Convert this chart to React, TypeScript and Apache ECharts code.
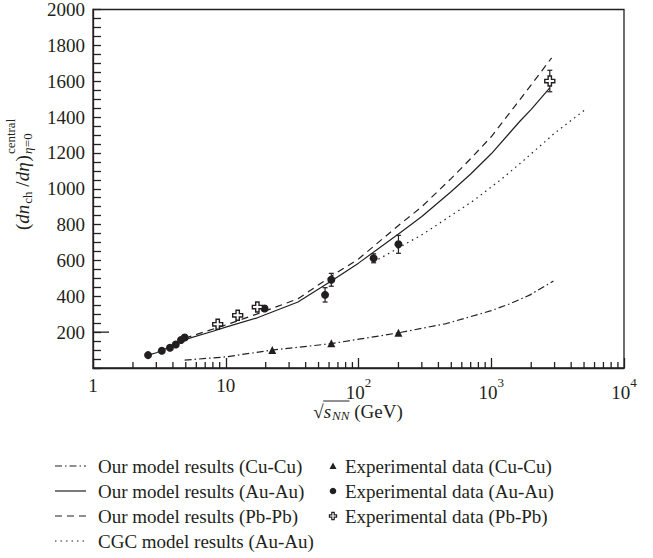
import { useEffect, useRef } from 'react';
import * as echarts from 'echarts';

// ---- data (x = sqrt(s_NN) in GeV, y = dN/deta) ----
const cuCuModel: [number, number][] = [
  [4.9, 44], [10, 62], [22.4, 100], [62.4, 136], [200, 196], [460, 248], [1000, 320], [1400, 360], [1960, 408], [2940, 485],
];
const auAuModel: [number, number][] = [
  [2.6, 72], [3, 85], [4, 125], [4.9, 158], [8, 205], [10, 228], [17.3, 280], [35, 368], [62.4, 485], [100, 585],
  [200, 748], [300, 845], [500, 985], [700, 1082], [1000, 1195], [1650, 1378], [2000, 1443], [2760, 1563],
];
const pbPbModel: [number, number][] = [
  [4.9, 166], [10, 240], [17.3, 302], [35, 386], [62.4, 512], [100, 608], [200, 795], [300, 900], [500, 1058],
  [700, 1168], [1000, 1290], [1650, 1498], [2000, 1580], [2850, 1730],
];
const cgcModel: [number, number][] = [
  [130, 591], [200, 670], [308, 748], [450, 829], [733, 933], [1200, 1055], [1742, 1156], [3000, 1310], [5236, 1448],
];
const cuCuExp: [number, number][] = [[22.4, 100], [62.4, 138], [200, 196]];
const auAuExp: [number, number][] = [
  [2.6, 72], [3.3, 96], [3.8, 113], [4.2, 131], [4.6, 156], [4.9, 170], [19.6, 332], [56, 408], [62.4, 492], [130, 612], [200, 690],
];
const auAuErr: number[] = [0, 0, 0, 0, 0, 14, 15, 40, 36, 25, 50];
const pbPbExp: [number, number][] = [[8.7, 244], [12.3, 294], [17.3, 340], [2760, 1601]];
const pbPbErr: number[] = [0, 0, 0, 60];

const yMax = 2000;
const yInterval = 200;
const xDecades = [1, 10, 100, 1000];

const lineNames = [
  'Our model results (Cu-Cu)',
  'Our model results (Au-Au)',
  'Our model results (Pb-Pb)',
  'CGC model results (Au-Au)',
];
const expNames = [
  'Experimental data (Cu-Cu)',
  'Experimental data (Au-Au)',
  'Experimental data (Pb-Pb)',
];

const FAMILY = 'Liberation Serif';
const FONT = 'Liberation Serif, serif';
const INK = '#231f20';
const CROSS_D = 'M3,0L6,0L6,3L9,3L9,6L6,6L6,9L3,9L3,6L0,6L0,3L3,3Z';
const CROSS = 'path://' + CROSS_D;
const DASH_DOT = [7, 3, 1.5, 3];
const DASH = [7, 5];
const DOT = [1.5, 4];

function measure(text: string, size: number, italic: boolean) {
  const ctx = document.createElement('canvas').getContext('2d')!;
  ctx.font = `${italic ? 'italic ' : ''}${size}px ${FAMILY}`;
  return ctx.measureText(text).width;
}

function txt(t: string, x: number, y: number, size: number, italic: boolean) {
  return {
    type: 'text',
    x,
    y,
    style: {
      text: t,
      fontFamily: FONT,
      fontSize: size,
      fontStyle: italic ? 'italic' : 'normal',
      fill: INK,
      textAlign: 'left',
      textVerticalAlign: 'middle',
      align: 'left',
      verticalAlign: 'middle',
    },
  };
}

export default function App() {
  const ref = useRef<HTMLDivElement>(null);
  useEffect(() => {
    if (!ref.current) return;
    try {
      echarts.graphic.registerShape('crossMark', echarts.graphic.extendPath(CROSS_D, {}) as any);
    } catch (e) { /* already registered */ }
    const chart = echarts.init(ref.current, undefined, { renderer: 'svg' });

    // y-axis title (rotated group)
    const yParts = [
      { t: '(', s: 19, i: false, dy: 0 },
      { t: 'dn', s: 19, i: true, dy: 0 },
      { t: 'ch', s: 13, i: false, dy: 5 },
      { t: ' /', s: 19, i: false, dy: 0 },
      { t: 'dη', s: 19, i: true, dy: 0 },
      { t: ')', s: 19, i: false, dy: 0 },
    ];
    const yChildren: any[] = [];
    let pos = 0;
    for (const p of yParts) {
      yChildren.push(txt(p.t, pos, p.dy, p.s, p.i));
      pos += measure(p.t, p.s, p.i) + (p.i ? 1 : 0);
    }
    yChildren.push(txt('central', pos + 1, -12, 13, false));
    yChildren.push(txt('η', pos + 1, 5, 13, true));
    yChildren.push(txt('=0', pos + 1 + measure('η', 13, true) + 0.5, 5, 13, false));

    // x-axis title
    const wRad = measure('√', 19, false);
    const wS = measure('s', 19, true);
    const wNN = measure('NN', 13, true);
    const wRest = measure(' (GeV)', 19, false);
    const total = wRad + wS + 1 + wNN + wRest;
    const xStart = 358 - total / 2;
    const xTitleY = 411;
    const xChildren: any[] = [
      txt('√', xStart, xTitleY, 19, false),
      txt('s', xStart + wRad, xTitleY, 19, true),
      txt('NN', xStart + wRad + wS + 1, xTitleY + 4, 13, true),
      txt(' (GeV)', xStart + wRad + wS + 1 + wNN, xTitleY, 19, false),
      {
        type: 'line',
        shape: { x1: xStart + wRad - 0.5, y1: xTitleY - 10, x2: xStart + wRad + wS + 1 + wNN, y2: xTitleY - 10 },
        style: { stroke: INK, lineWidth: 1 },
      },
    ];

    // legend (manual)
    const rowY = [466, 491, 516, 541];
    const legendChildren: any[] = [];
    const dashes: any[] = [DASH_DOT, null, DASH, DOT];
    lineNames.forEach((n, k) => {
      legendChildren.push({
        type: 'line',
        shape: { x1: 55, y1: rowY[k], x2: 86, y2: rowY[k] },
        style: { stroke: INK, lineWidth: 1.2, lineDash: dashes[k] || undefined },
      });
      legendChildren.push(txt(n, 98, rowY[k], 19, false));
    });
    const mx = 333;
    legendChildren.push({
      type: 'polygon',
      shape: { points: [[mx, rowY[0] - 3.5], [mx + 3.5, rowY[0] + 3], [mx - 3.5, rowY[0] + 3]] },
      style: { fill: INK },
    });
    legendChildren.push({ type: 'circle', shape: { cx: mx, cy: rowY[1], r: 3.3 }, style: { fill: INK } });
    legendChildren.push({
      type: 'crossMark',
      x: mx - 3.6,
      y: rowY[2] - 3.6,
      scaleX: 0.8,
      scaleY: 0.8,
      style: { fill: '#fff', stroke: INK, lineWidth: 1.5 },
    });
    expNames.forEach((n, k) => legendChildren.push(txt(n, 345, rowY[k], 19, false)));

    const errorRows: number[][] = [];
    auAuExp.forEach((p, k) => { if (auAuErr[k] > 0) errorRows.push([p[0], p[1], auAuErr[k]]); });
    pbPbExp.forEach((p, k) => { if (pbPbErr[k] > 0) errorRows.push([p[0], p[1], pbPbErr[k]]); });

    // extra tick marks (x minor ticks at 2..9 per decade, long y tick at 200): [x, y, dx, dy]
    const ticks: number[][] = [];
    for (const d of xDecades) for (let k = 2; k <= 9; k++) ticks.push([d * k, 0, 0, -6]);
    ticks.push([1, yInterval, 16, 0]);

    const lineSeries = (name: string, data: [number, number][], type: any) => ({
      name,
      type: 'line',
      data,
      symbol: 'none',
      lineStyle: { color: INK, width: 1.2, type },
      itemStyle: { color: INK },
      z: 2,
    });

    const baseOption: any = {
      animation: false,
      grid: { left: 93, top: 9, right: 29, bottom: 190, show: true, borderColor: INK, borderWidth: 1.3 },
      xAxis: {
        type: 'log',
        logBase: 10,
        min: 1,
        max: 10000,
        axisLine: { show: true, lineStyle: { color: INK, width: 1.3 } },
        axisTick: { show: true, inside: true, length: 10, lineStyle: { color: INK, width: 1.3 } },
        splitLine: { show: false },
        axisLabel: {
          color: INK,
          fontFamily: FONT,
          fontSize: 19,
          lineHeight: 19,
          margin: 8,
          formatter: (v: number) => {
            const e = Math.round(Math.log10(v));
            if (e === 0) return '1';
            if (e === 1) return '10';
            return `{b|10}{s|${e}}`;
          },
          rich: {
            b: { fontFamily: FONT, fontSize: 19, color: INK, lineHeight: 26, verticalAlign: 'bottom' },
            s: { fontFamily: FONT, fontSize: 13, color: INK, lineHeight: 26, verticalAlign: 'top' },
          },
        },
      },
      yAxis: {
        type: 'value',
        min: 0,
        max: yMax,
        interval: yInterval,
        axisLine: { show: true, lineStyle: { color: INK, width: 1.3 } },
        axisTick: { show: true, inside: true, length: 8, lineStyle: { color: INK, width: 1.3 } },
        minorTick: { show: true, splitNumber: 4, length: 8, lineStyle: { color: INK, width: 1.3 } },
        splitLine: { show: false },
        axisLabel: {
          color: INK,
          fontFamily: FONT,
          fontSize: 19,
          margin: 8,
          formatter: (v: number) => (v === 0 ? '' : String(v)),
        },
      },
      series: [
        lineSeries(lineNames[0], cuCuModel, DASH_DOT),
        lineSeries(lineNames[1], auAuModel, 'solid'),
        lineSeries(lineNames[2], pbPbModel, DASH),
        lineSeries(lineNames[3], cgcModel, DOT),
        {
          type: 'custom',
          name: 'errors',
          silent: true,
          z: 3,
          data: errorRows,
          encode: { x: 0, y: 1 },
          renderItem: (_p: any, api: any) => {
            const x = api.value(0), y = api.value(1), e = api.value(2);
            const t = api.coord([x, y + e]);
            const b = api.coord([x, y - e]);
            const st = { stroke: INK, lineWidth: 1.2 };
            return {
              type: 'group',
              children: [
                { type: 'line', shape: { x1: t[0], y1: t[1], x2: b[0], y2: b[1] }, style: st },
                { type: 'line', shape: { x1: t[0] - 2.5, y1: t[1], x2: t[0] + 2.5, y2: t[1] }, style: st },
                { type: 'line', shape: { x1: b[0] - 2.5, y1: b[1], x2: b[0] + 2.5, y2: b[1] }, style: st },
              ],
            };
          },
        },
        {
          name: expNames[0],
          type: 'scatter',
          symbol: 'triangle',
          symbolSize: 8,
          itemStyle: { color: INK, opacity: 1 },
          data: cuCuExp,
          z: 4,
        },
        {
          name: expNames[1],
          type: 'scatter',
          symbol: 'circle',
          symbolSize: 8,
          itemStyle: { color: INK, opacity: 1 },
          data: auAuExp,
          z: 4,
        },
        {
          name: expNames[2],
          type: 'scatter',
          symbol: CROSS,
          symbolSize: 10,
          itemStyle: { color: '#ffffff', borderColor: INK, borderWidth: 1.4, opacity: 1 },
          data: pbPbExp,
          z: 5,
        },
      ],
    };
    chart.setOption(baseOption);

    const tickLines = ticks.map((t) => {
      const c = chart.convertToPixel({ gridIndex: 0 }, [t[0], t[1]]) as number[];
      return {
        type: 'line',
        shape: { x1: c[0], y1: c[1], x2: c[0] + t[2], y2: c[1] + t[3] },
        style: { stroke: INK, lineWidth: 1.3 },
      };
    });

    chart.setOption({
      graphic: [
        { type: 'group', x: 22, y: 230, rotation: Math.PI / 2, children: yChildren },
        { type: 'group', children: xChildren },
        { type: 'group', children: legendChildren },
        { type: 'group', z: 50, children: tickLines },
      ],
    });
    return () => chart.dispose();
  }, []);
  return (
    <div
      ref={ref}
      style={{ position: 'absolute', left: 0, top: 0, width: 653, height: 558, background: '#fff' }}
    />
  );
}
